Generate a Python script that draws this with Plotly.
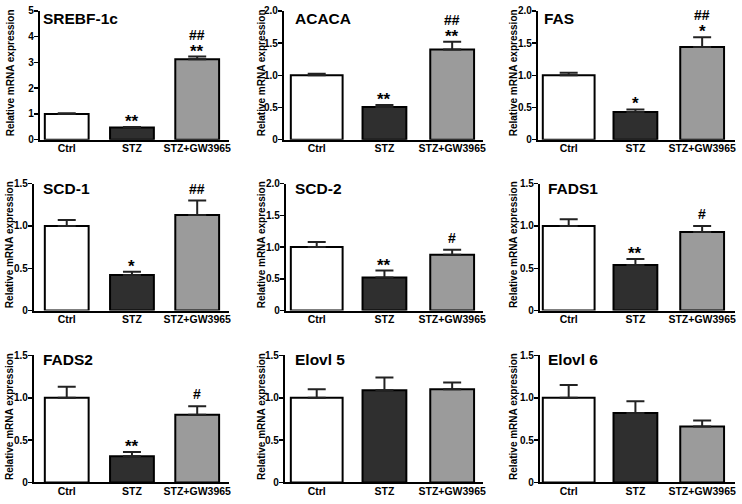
import plotly.graph_objects as go

# ---------------- data ----------------
genes = ["SREBF-1c", "ACACA", "FAS", "SCD-1", "SCD-2", "FADS1", "FADS2", "Elovl 5", "Elovl 6"]
groups = ["Ctrl", "STZ", "STZ+GW3965"]
ctrl_mean = [1.0, 1.0, 1.0, 1.0, 1.0, 1.0, 1.0, 1.0, 1.0]
ctrl_sem = [0.03, 0.025, 0.04, 0.07, 0.08, 0.08, 0.13, 0.10, 0.15]
stz_mean = [0.47, 0.51, 0.43, 0.42, 0.52, 0.54, 0.31, 1.09, 0.82]
stz_sem = [0.02, 0.03, 0.04, 0.04, 0.11, 0.07, 0.05, 0.15, 0.14]
gw_mean = [3.12, 1.40, 1.44, 1.13, 0.88, 0.93, 0.80, 1.10, 0.66]
gw_sem = [0.11, 0.12, 0.15, 0.17, 0.08, 0.07, 0.10, 0.08, 0.07]
stz_sig = ["**", "**", "*", "*", "**", "**", "**", "", ""]
gw_sig_ctrl = ["**", "**", "*", "", "", "", "", "", ""]
gw_sig_stz = ["##", "##", "##", "##", "#", "#", "#", "", ""]
y_max = [5, 2, 2, 1.5, 2, 1.5, 1.5, 1.5, 1.5]
y_title = "Relative mRNA expression"

# ---------------- layout constants (pixels) ----------------
W, H = 742, 504
col_end = [230, 485, 738]
col_c0 = [67, 318, 571]
col_sp = [65.5, 68, 67]
axis_x = [40, 285, 540, 34, 287, 542, 34, 286, 542]
row_y0 = [137, 312, 488]
row_top = [5, 182, 358]
ytitle_x = [10, 262, 515, 9, 262, 515, 9, 262, 515]
title_left = [41, 294, 544, 41, 294, 548, 41, 294, 548]
title_cy = [13, 13, 13, 187, 187, 187, 362, 362, 362]
ctrl_w_px = [44, 52, 52]
bar_w_px = 44
colors = ["#ffffff", "#2f2f2f", "#9b9b9b"]
FONT = "Liberation Sans, Arial, sans-serif"

fig = go.Figure()
layout = dict(
    width=W, height=H, margin=dict(l=0, r=0, t=0, b=0),
    paper_bgcolor="white", plot_bgcolor="white", showlegend=False,
    font=dict(family=FONT, color="black"),
)
annotations = []

for i, g in enumerate(genes):
    r, c = divmod(i, 3)
    n = "" if i == 0 else str(i + 1)
    xa, ya = "x" + n, "y" + n
    sp = col_sp[c]
    means = [ctrl_mean[i], stz_mean[i], gw_mean[i]]
    sems = [ctrl_sem[i], stz_sem[i], gw_sem[i]]
    widths = [ctrl_w_px[c] / sp, bar_w_px / sp, bar_w_px / sp]
    fig.add_trace(go.Bar(
        x=groups, y=means, width=widths, xaxis=xa, yaxis=ya,
        marker=dict(color=colors, line=dict(color="black", width=2)),
        error_y=dict(type="data", symmetric=False, array=sems,
                     arrayminus=[0, 0, 0], color="#222222", thickness=2, width=9),
    ))
    xdom = [axis_x[i] / W, col_end[c] / W]
    ydom = [(H - row_y0[r]) / H, (H - row_top[r]) / H]
    xr = [-(col_c0[c] - axis_x[i]) / sp, (col_end[c] - col_c0[c]) / sp]
    ym = y_max[i]
    if ym == 5:
        tv = [0, 1, 2, 3, 4, 5]
        tt = ["0", "1", "2", "3", "4", "5"]
    elif ym == 2:
        tv = [0, 0.5, 1, 1.5, 2]
        tt = ["0", "0.5", "1.0", "1.5", "2.0"]
    else:
        tv = [0, 0.5, 1, 1.5]
        tt = ["0", "0.5", "1.0", "1.5"]
    layout["xaxis" + n] = dict(
        domain=xdom, range=xr, anchor=ya, showline=True, linecolor="black",
        linewidth=2, ticks="", showgrid=False, zeroline=False, fixedrange=True,
        tickfont=dict(family=FONT, size=10.5, weight="bold", color="black"),
        categoryorder="array", categoryarray=groups, ticklabelstandoff=-2,
    )
    layout["yaxis" + n] = dict(
        domain=ydom, range=[0, ym], anchor=xa, showline=True, linecolor="black",
        linewidth=2, ticks="outside", ticklen=4, tickwidth=1.5, tickcolor="black",
        tickvals=tv, ticktext=tt, showgrid=False, zeroline=False,
        ticklabelstandoff=-2, fixedrange=True,
        tickfont=dict(family=FONT, size=10, weight="bold", color="black"),
    )
    # panel title
    annotations.append(dict(
        text=g, xref="paper", yref="paper", x=title_left[i] / W,
        y=1 - title_cy[i] / H, xanchor="left", yanchor="middle", showarrow=False,
        font=dict(family=FONT, size=15.5, weight="bold", color="black"),
    ))
    # y-axis title
    annotations.append(dict(
        text=y_title, xref="paper", yref="paper", x=ytitle_x[i] / W,
        y=1 - ((row_y0[r] + row_top[r]) / 2 - 3) / H, xanchor="center",
        yanchor="middle", textangle=-90, showarrow=False,
        font=dict(family=FONT, size=10, weight="bold", color="black"),
    ))
    # significance marks
    if stz_sig[i]:
        annotations.append(dict(
            text=stz_sig[i], xref=xa, yref=ya, x=groups[1],
            y=stz_mean[i] + stz_sem[i], yanchor="bottom", yshift=-6,
            showarrow=False,
            font=dict(family=FONT, size=17, weight="bold", color="black"),
        ))
    top = gw_mean[i] + gw_sem[i]
    if gw_sig_ctrl[i]:
        annotations.append(dict(
            text=gw_sig_ctrl[i], xref=xa, yref=ya, x=groups[2], y=top,
            yanchor="bottom", yshift=-6, showarrow=False,
            font=dict(family=FONT, size=17, weight="bold", color="black"),
        ))
        hash_shift = 12
    else:
        hash_shift = 2
    if gw_sig_stz[i]:
        annotations.append(dict(
            text=gw_sig_stz[i], xref=xa, yref=ya, x=groups[2], y=top,
            yanchor="bottom", yshift=hash_shift, showarrow=False,
            font=dict(family=FONT, size=14, weight="bold", color="black"),
        ))

layout["annotations"] = annotations
fig.update_layout(**layout)
fig.write_html(
    "out.html",
    config={"displayModeBar": False, "staticPlot": True},
    post_script="document.body.style.margin='0';document.body.style.padding='0';",
)
